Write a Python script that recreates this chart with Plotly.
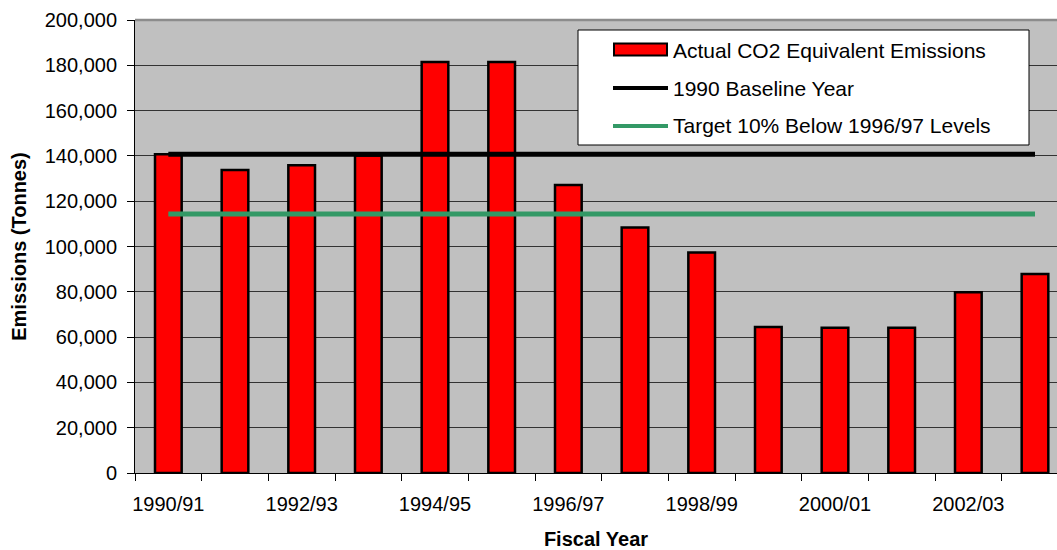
import plotly.graph_objects as go

# Fiscal years and annual CO2-equivalent emissions (tonnes)
fiscal_years = ["1990/91", "1991/92", "1992/93", "1993/94", "1994/95", "1995/96", "1996/97",
                "1997/98", "1998/99", "1999/00", "2000/01", "2001/02", "2002/03", "2003/04"]
emissions = [140700, 133800, 135900, 140200, 181500, 181500, 127100,
             108400, 97300, 64500, 64100, 64100, 79800, 87900]

# Reference levels
baseline_1990 = 140700
target_level = 114400

series_names = ["Actual CO2 Equivalent Emissions", "1990 Baseline Year",
                "Target 10% Below 1996/97 Levels"]
bar_color = "#FF0000"
baseline_color = "#000000"
target_color = "#339966"

# Only every second fiscal year is labelled on the axis
tick_text = [fy if i % 2 == 0 else "" for i, fy in enumerate(fiscal_years)]

W, H = 1057, 550
ML, MR, MT, MB = 135, 0, 20, 77
FONT = "Liberation Sans, Arial, sans-serif"

fig = go.Figure()
fig.add_trace(go.Bar(
    x=fiscal_years, y=emissions, name=series_names[0],
    marker=dict(color=bar_color, line=dict(color="black", width=2.5)),
    showlegend=False,
))
fig.add_trace(go.Scatter(
    x=fiscal_years, y=[baseline_1990] * len(fiscal_years), name=series_names[1],
    mode="lines", line=dict(color=baseline_color, width=5), showlegend=False,
))
fig.add_trace(go.Scatter(
    x=fiscal_years, y=[target_level] * len(fiscal_years), name=series_names[2],
    mode="lines", line=dict(color=target_color, width=5), showlegend=False,
))

# pixel -> paper helpers for the legend box
pw, ph = W - ML - MR, H - MT - MB
def px(x):
    return (x - ML) / pw
def py(y):
    return (H - MB - y) / ph

shapes = [
    # grey frame along the top of the plot area
    dict(type="line", xref="paper", yref="paper", x0=0, x1=1, y0=1, y1=1,
         line=dict(color="#8C8C8C", width=2.5)),
    # legend box
    dict(type="rect", xref="paper", yref="paper", x0=px(578), x1=px(1029), y0=py(30), y1=py(145),
         fillcolor="white", line=dict(color="black", width=1)),
    dict(type="rect", xref="paper", yref="paper", x0=px(614), x1=px(667), y0=py(43.5), y1=py(55.5),
         fillcolor=bar_color, line=dict(color="black", width=2)),
    dict(type="line", xref="paper", yref="paper", x0=px(613), x1=px(668), y0=py(88), y1=py(88),
         line=dict(color=baseline_color, width=4)),
    dict(type="line", xref="paper", yref="paper", x0=px(613), x1=px(668), y0=py(126), y1=py(126),
         line=dict(color=target_color, width=4)),
]
annotations = [
    dict(xref="paper", yref="paper", x=px(671), y=py(yy), text=name, showarrow=False,
         xanchor="left", yanchor="middle", font=dict(family=FONT, size=21, color="black"))
    for name, yy in zip(series_names, [50, 88, 126])
]

fig.update_layout(
    width=W, height=H,
    margin=dict(l=ML, r=MR, t=MT, b=MB),
    paper_bgcolor="white", plot_bgcolor="#C0C0C0",
    bargap=0.6,
    font=dict(family=FONT, size=20, color="black"),
    shapes=shapes, annotations=annotations,
    showlegend=False,
)
fig.update_xaxes(
    type="category", range=[-0.5, 13.33], automargin=False,
    tickmode="array", tickvals=fiscal_years, ticktext=tick_text, tickangle=0,
    tickson="boundaries", ticks="outside", ticklen=7, tickcolor="black", tickwidth=1,
    showline=True, linecolor="black", linewidth=1, showgrid=False,
    tickfont=dict(size=20), ticklabelstandoff=13,
    title=dict(text="<b>Fiscal Year</b>", font=dict(size=20), standoff=22),
)
fig.update_yaxes(
    range=[0, 200000], dtick=20000, tickformat=",", automargin=False,
    ticks="outside", ticklen=7, tickcolor="black", tickwidth=1,
    showline=True, linecolor="black", linewidth=1,
    showgrid=True, gridcolor="#333333", gridwidth=1, zeroline=False,
    tickfont=dict(size=20), ticklabelstandoff=6,
    title=dict(text="<b>Emissions (Tonnes)</b>", font=dict(size=20), standoff=12),
)

fig.write_html("out.html")
